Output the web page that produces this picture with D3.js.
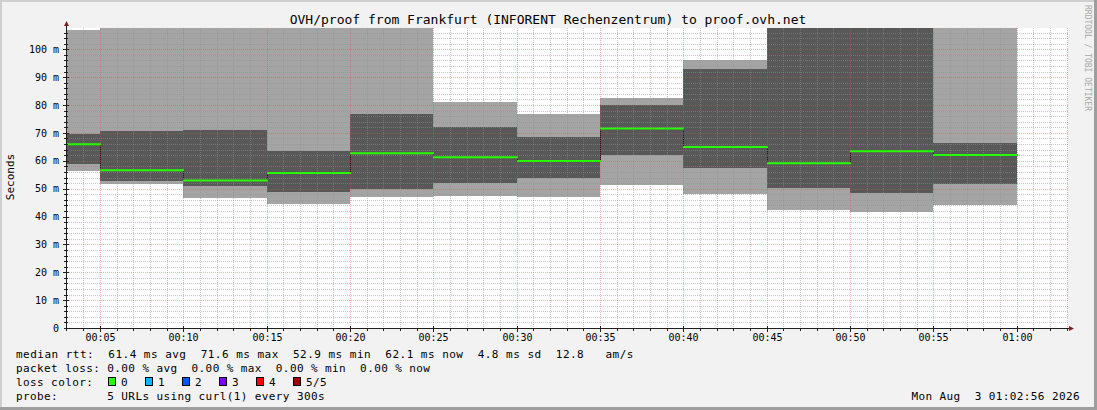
<!DOCTYPE html>
<html>
<head>
<meta charset="utf-8">
<script src="https://cdn.jsdelivr.net/npm/d3@7"></script>
<style>
  html, body { margin: 0; padding: 0; background: #f2f2f2; }
  svg { display: block; }
  text { font-family: "DejaVu Sans Mono", monospace; fill: #000; white-space: pre; }
</style>
</head>
<body>
<svg id="chart" width="1097" height="410"></svg>
<script>
// ---------------- data ----------------
const binEnds = ["00:05","00:10","00:15","00:20","00:25","00:30","00:35","00:40","00:45","00:50","00:55","01:00"];
const ping1  = [56.3, 51.6, 46.6, 44.4, 47.0, 47.3, 47.0, 51.3, 48.0, 42.3, 41.6, 44.1];
const ping2  = [58.8, 52.7, 51.0, 48.9, 49.8, 52.0, 53.8, 62.0, 57.3, 50.2, 48.4, 51.6];
const median = [65.9, 56.6, 52.9, 55.6, 62.7, 61.3, 59.9, 71.6, 64.9, 59.1, 63.4, 62.1];
const ping4  = [69.5, 70.6, 71.0, 63.4, 76.7, 72.0, 68.5, 79.9, 92.8, 118.0, 124.0, 66.3];
const ping5  = [106.9, 118.0, 121.0, 114.0, 126.0, 81.0, 76.7, 82.4, 96.1, 135.0, 142.0, 116.0];
const yTicks = [0, 10, 20, 30, 40, 50, 60, 70, 80, 90, 100];
const yTickLabels = ["0", "10 m", "20 m", "30 m", "40 m", "50 m", "60 m", "70 m", "80 m", "90 m", "100 m"];
const lossColors = ["#26ff00", "#00b8ff", "#0059ff", "#7e00ff", "#ff0000", "#a10000"];
const lossLabels = ["0", "1", "2", "3", "4", "5/5"];
const title = "OVH/proof from Frankfurt (INFORENT Rechenzentrum) to proof.ovh.net";
const legendRtt = "median rtt:  61.4 ms avg  71.6 ms max  52.9 ms min  62.1 ms now  4.8 ms sd  12.8   am/s";
const legendLoss = "packet loss: 0.00 % avg  0.00 % max  0.00 % min  0.00 % now";
const legendProbe = "probe:       5 URLs using curl(1) every 300s";
const stamp = "Mon Aug  3 01:02:56 2026";

// ---------------- layout ----------------
const W = 1097, H = 410;
const L = 67, R = 1067, T = 28, B = 328;
const svg = d3.select("#chart");
const parseT = s => { const [h, m] = s.split(":").map(Number); return new Date(2026, 7, 3, h, m, 0); };
const tStart = new Date(2026, 7, 3, 0, 3, 1);
const tEnd = new Date(2026, 7, 3, 1, 3, 1);
const x = d3.scaleTime().domain([tStart, tEnd]).range([L, R]);
const y = d3.scaleLinear().domain([0, 100]).range([B, 49.3]);

// background & 3D frame
svg.append("rect").attr("x", 0).attr("y", 0).attr("width", W).attr("height", H).attr("fill", "#f2f2f2");
svg.append("rect").attr("x", 0).attr("y", 0).attr("width", W).attr("height", 2).attr("fill", "#cfcfcf");
svg.append("rect").attr("x", 0).attr("y", 0).attr("width", 2).attr("height", H).attr("fill", "#cfcfcf");
svg.append("rect").attr("x", 0).attr("y", H - 3).attr("width", W).attr("height", 3).attr("fill", "#9e9e9e");
svg.append("rect").attr("x", W - 3).attr("y", 0).attr("width", 3).attr("height", H).attr("fill", "#9e9e9e");

// canvas
svg.append("rect").attr("x", L).attr("y", T).attr("width", R + 1 - L).attr("height", B - T).attr("fill", "#ffffff");

svg.append("clipPath").attr("id", "plotclip")
  .append("rect").attr("x", L).attr("y", T).attr("width", R + 1 - L).attr("height", B - T);

const bins = binEnds.map((e, i) => {
  const end = parseT(e);
  const start = new Date(end.getTime() - 300000);
  return { start, end, p1: ping1[i], p2: ping2[i], med: median[i], p4: ping4[i], p5: ping5[i] };
});

const px0 = d => Math.max(L, Math.round(x(d.start)));
const px1 = d => Math.round(x(d.end));
const g = svg.append("g").attr("clip-path", "url(#plotclip)");

// outer smoke
g.selectAll("rect.outer").data(bins).join("rect").attr("class", "outer")
  .attr("x", px0).attr("width", d => px1(d) - px0(d))
  .attr("y", d => Math.round(y(d.p5))).attr("height", d => Math.round(y(d.p1)) - Math.round(y(d.p5)))
  .attr("fill", "#a4a4a4");
// inner smoke
g.selectAll("rect.inner").data(bins).join("rect").attr("class", "inner")
  .attr("x", px0).attr("width", d => px1(d) - px0(d))
  .attr("y", d => Math.round(y(d.p4))).attr("height", d => Math.round(y(d.p2)) - Math.round(y(d.p4)))
  .attr("fill", "#585858");

// median: dark step transitions
for (let i = 1; i < bins.length; i++) {
  const xx = px0(bins[i]) + 0.5;
  g.append("line").attr("x1", xx).attr("x2", xx)
    .attr("y1", y(bins[i - 1].med)).attr("y2", y(bins[i].med))
    .attr("stroke", "#202020").attr("stroke-width", 1);
}
// median: loss-coloured horizontal segments
g.selectAll("line.med").data(bins).join("line").attr("class", "med")
  .attr("x1", px0).attr("x2", d => px1(d) + 1)
  .attr("y1", d => y(d.med)).attr("y2", d => y(d.med))
  .attr("stroke", lossColors[0]).attr("stroke-width", 2);

// ---------------- grid (on top, like rrdtool) ----------------
const grid = svg.append("g");
const minorY = d3.range(2, 108, 2).filter(v => v % 10 !== 0 && y(v) > T);
const majorY = d3.range(10, 108, 10).filter(v => y(v) > T);
grid.selectAll("line.gy").data(minorY).join("line")
  .attr("x1", L).attr("x2", R + 1)
  .attr("y1", v => Math.round(y(v)) + 0.5).attr("y2", v => Math.round(y(v)) + 0.5)
  .attr("stroke", "rgba(143,143,143,0.5)").attr("stroke-width", 1).attr("stroke-dasharray", "1,1");
grid.selectAll("line.gY").data(majorY).join("line")
  .attr("x1", L).attr("x2", R + 1)
  .attr("y1", v => Math.round(y(v)) + 0.5).attr("y2", v => Math.round(y(v)) + 0.5)
  .attr("stroke", "rgba(222,79,79,0.45)").attr("stroke-width", 1).attr("stroke-dasharray", "1,1");

const minorX = d3.timeMinute.range(tStart, tEnd).filter(t => t.getMinutes() % 5 !== 0);
const majorX = d3.timeMinute.every(5).range(tStart, tEnd);
grid.selectAll("line.gx").data(minorX).join("line")
  .attr("x1", t => Math.round(x(t)) + 0.5).attr("x2", t => Math.round(x(t)) + 0.5)
  .attr("y1", T).attr("y2", B)
  .attr("stroke", "rgba(143,143,143,0.5)").attr("stroke-width", 1).attr("stroke-dasharray", "1,1");
grid.selectAll("line.gX").data(majorX).join("line")
  .attr("x1", t => Math.round(x(t)) + 0.5).attr("x2", t => Math.round(x(t)) + 0.5)
  .attr("y1", T).attr("y2", B)
  .attr("stroke", "rgba(222,79,79,0.45)").attr("stroke-width", 1).attr("stroke-dasharray", "1,1");

// ---------------- axes ----------------
const axisCol = "#1f1f1f", arrowCol = "#801f1f";
const tk = svg.append("g").attr("stroke", axisCol).attr("stroke-width", 1);
minorY.forEach(v => tk.append("line").attr("x1", L - 3).attr("x2", L + 1).attr("y1", Math.round(y(v)) + 0.5).attr("y2", Math.round(y(v)) + 0.5));
majorY.forEach(v => tk.append("line").attr("x1", L - 4).attr("x2", L + 2).attr("y1", Math.round(y(v)) + 0.5).attr("y2", Math.round(y(v)) + 0.5));
minorX.forEach(t => tk.append("line").attr("y1", B).attr("y2", B + 3).attr("x1", Math.round(x(t)) + 0.5).attr("x2", Math.round(x(t)) + 0.5));
majorX.forEach(t => tk.append("line").attr("y1", B - 2).attr("y2", B + 4).attr("x1", Math.round(x(t)) + 0.5).attr("x2", Math.round(x(t)) + 0.5));

svg.append("line").attr("x1", L - 0.5).attr("x2", L - 0.5).attr("y1", B + 3).attr("y2", 25)
  .attr("stroke", axisCol).attr("stroke-width", 1);
svg.append("line").attr("x1", L - 3).attr("x2", R + 3).attr("y1", B + 0.5).attr("y2", B + 0.5)
  .attr("stroke", axisCol).attr("stroke-width", 1);
svg.append("path").attr("d", `M${L - 3},26 L${L - 0.5},21 L${L + 2},26 Z`).attr("fill", arrowCol);
svg.append("path").attr("d", `M${R + 2},${B - 2} L${R + 7},${B + 0.5} L${R + 2},${B + 3} Z`).attr("fill", arrowCol);

// y labels
svg.append("g").selectAll("text").data(yTicks).join("text")
  .attr("x", 59).attr("y", v => y(v)).attr("dy", "0.36em")
  .attr("text-anchor", "end").style("font-size", "10px")
  .text((v, i) => yTickLabels[i]);
// x labels
svg.append("g").selectAll("text").data(majorX).join("text")
  .attr("x", t => Math.round(x(t)) + 0.5).attr("y", 341)
  .attr("text-anchor", "middle").style("font-size", "10px")
  .text(d3.timeFormat("%H:%M"));

// y axis title
svg.append("text").attr("transform", "translate(14,177) rotate(-90)")
  .attr("text-anchor", "middle").style("font-size", "11px").text("Seconds");

// title
svg.append("text").attr("x", 548).attr("y", 24).attr("text-anchor", "middle")
  .style("font-size", "13px").text(title);

// watermark
svg.append("text").attr("transform", "translate(1085,5) rotate(90)")
  .style("font-size", "8px").style("fill", "#a8a8a8").text("RRDTOOL / TOBI OETIKER");

// ---------------- legend ----------------
const lg = svg.append("g").style("font-size", "11px").style("letter-spacing", "0.4px");
const put = (xx, yy, s) => lg.append("text").attr("x", xx).attr("y", yy).text(s);
put(16, 358, legendRtt).style("letter-spacing", "0.48px");
put(16, 372, legendLoss);
put(16, 386, "loss color:");
lossColors.forEach((c, i) => {
  const bx = 108 + i * 37;
  lg.append("rect").attr("x", bx + 0.5).attr("y", 377.5).attr("width", 7).attr("height", 8)
    .attr("fill", c).attr("stroke", "#000").attr("stroke-width", 1);
  put(bx + 13, 386, lossLabels[i]);
});
put(16, 400, legendProbe);
lg.append("text").attr("x", 1080).attr("y", 400).attr("text-anchor", "end").text(stamp);
</script>
</body>
</html>
